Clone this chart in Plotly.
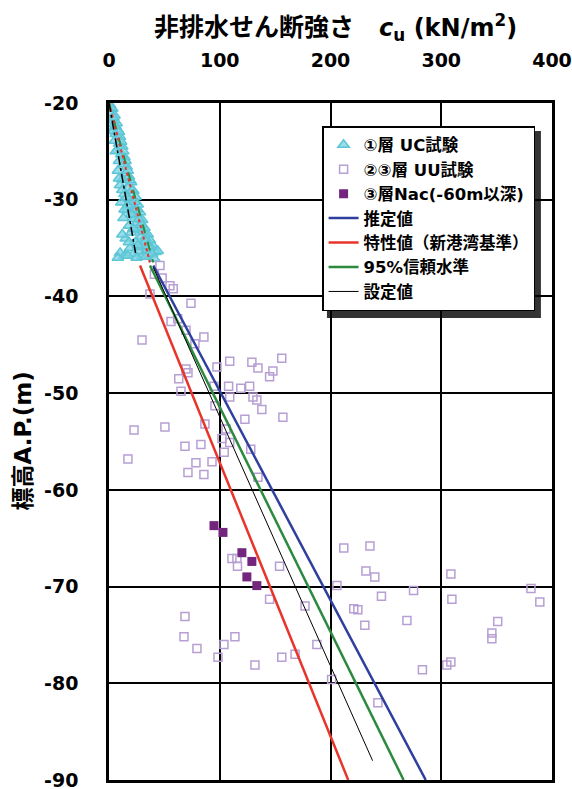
import plotly.graph_objects as go

# ---------------- data ----------------
# ① layer UC tests (cyan triangles)
uc_x = [1, 3, 2, 5, 4, 7, 3, 8, 6, 10, 5, 9, 12, 7, 11, 14, 9, 13, 16, 8, 15, 18, 12, 20, 10,
        17, 22, 14, 24, 19, 11, 26, 21, 16, 28, 23, 13, 30, 25, 18, 32, 27, 20, 35, 29, 15, 37,
        24, 31, 40, 19, 34, 27, 42, 10, 22, 36, 14, 30, 8, 4, 6, 12, 17, 23, 26, 33, 38, 44, 28,
        2, 4, 6, 9, 11, 13, 15, 17, 19, 21, 23, 25, 27, 29, 31, 33, 35, 39, 17, 25, 33, 20, 22,
        26, 12, 16, 9, 14, 18, 41]
uc_y = [-20.2, -20.6, -21.0, -21.3, -21.8, -22.1, -22.5, -22.8, -23.2, -23.5, -23.9, -24.2, -24.5,
        -24.9, -25.3, -25.6, -26.0, -26.3, -26.6, -27.0, -27.3, -27.6, -27.9, -28.2, -28.5, -28.8,
        -29.1, -29.4, -29.7, -30.0, -30.3, -30.5, -30.8, -31.1, -31.3, -31.6, -31.9, -32.1, -32.4,
        -32.7, -32.9, -33.1, -33.4, -33.6, -33.8, -34.0, -34.2, -34.4, -34.6, -34.8, -35.0, -35.2,
        -35.3, -35.4, -35.5, -35.6, -35.7, -35.8, -35.9, -36.0, -22.9, -25.0, -29.0, -30.6, -32.0,
        -33.0, -34.0, -35.0, -35.3, -34.9,
        -20.5, -21.5, -22.4, -23.0, -24.0, -25.0, -26.0, -27.0, -28.0, -29.0, -30.2, -31.0, -32.0,
        -32.6, -33.3, -34.3, -34.8, -35.6, -35.8, -36.0, -35.9, -31.5, -33.0, -34.7, -33.6, -29.8,
        -27.8, -31.0, -34.4, -36.1]

# ②③ layer UU tests (open purple squares)
uu_x = [46, 41, 48, 55, 58, 37, 74, 56, 62, 69.5, 29.8, 85.7, 77.6, 97.5, 109, 129, 134.5, 156,
        148, 145, 69.5, 71.3, 63, 65, 94.8, 108, 119, 127, 109, 130, 133.5, 138, 95.7, 157, 122.7,
        86.6, 50.5, 22.6, 105.6, 102, 109, 83, 68.6, 128, 104, 17.1, 93, 78.5, 71.3, 85.7, 134.5,
        111, 115.5, 116, 154, 145, 177, 68.6, 67.7, 79.4, 103.8, 113.7, 98.4, 131.8, 156, 168,
        212, 235.6, 232, 240, 308.7, 205.8, 246, 275, 309.6, 381, 389, 221, 224.7, 351, 269, 231,
        345.7, 345.7, 187.7, 308.7, 305, 283, 201, 242.8]
uu_y = [-36.8, -37.7, -38.1, -38.9, -39.2, -39.75, -40.7, -42.6, -42.3, -43.5, -44.5, -44.2, -44.9,
        -47.3, -46.7, -46.8, -47.4, -46.4, -47.7, -48.3, -47.5, -47.9, -48.5, -49.8, -49.3, -49.3,
        -49.5, -49.3, -50.4, -50.4, -50.7, -51.7, -51.3, -52.5, -52.7, -53.2, -53.5, -53.8, -53.7,
        -54.7, -55.1, -55.3, -55.5, -55.8, -56.1, -56.8, -57.1, -57.2, -58.2, -58.4, -58.7,
        -67.1, -67.1, -67.9, -67.9, -71.3, -72.0, -73.1, -75.2, -76.4, -76.0, -75.2, -77.3, -78.1,
        -77.3, -77.0, -66.0, -65.8, -68.4, -69.0, -68.7, -69.9, -71.0, -70.4, -71.3, -70.2, -71.6,
        -72.3, -72.4, -73.6, -73.5, -74.0, -74.8, -75.4, -76.0, -77.8, -78.1, -78.6, -79.6, -82.0]

# ③ layer Nac (below -60 m) (filled purple squares)
nac_x = [94.8, 102.9, 120, 129, 124.5, 133.5]
nac_y = [-63.7, -64.4, -66.5, -67.4, -69.0, -69.9]

# design lines (lower clay, -37 m and deeper)
est_x = [40, 286]      # 推定値
est_y = [-36.8, -90]
char_x = [28, 216]     # 特性値
char_y = [-36.8, -90]
c95_x = [37, 266]      # 95%信頼水準
c95_y = [-36.8, -90]
set_x = [40, 238]      # 設定値
set_y = [-37.0, -88]

# design lines in layer ① (upper)
up_x = [0, 40]
up_y = [-20, -36.5]
up_red_x = [0, 37]
up_set_x = [0, 24]
up_set_y = [-20, -35.5]

x_ticks = [0, 100, 200, 300, 400]
x_ticktext = ["0", "100", "200", "300", "400"]
y_ticks = [-20, -30, -40, -50, -60, -70, -80, -90]
y_ticktext = ["-20", "-30", "-40", "-50", "-60", "-70", "-80", "-90"]

legend_names = ["①層 UC試験", "②③層 UU試験", "③層Nac(-60m以深)",
                "推定値", "特性値（新港湾基準）", "95%信頼水準", "設定値"]

# ---------------- styles ----------------
FONT = "DejaVu Sans, Noto Sans CJK JP, sans-serif"
BLUE = "#2f3f9e"
RED = "#e8352b"
GREEN = "#2b8a3e"
CYAN = "#5cc6d6"
LPURP = "#b79fd4"
DPURP = "#74267f"

fig = go.Figure()

fig.add_trace(go.Scatter(x=uc_x, y=uc_y, mode="markers", name=legend_names[0], legendgroup="g0",
                         marker=dict(symbol="triangle-up", size=10, color="rgba(120,210,225,0.75)",
                                     line=dict(color=CYAN, width=1.5))))
# upper dashed lines (layer ①)
fig.add_trace(go.Scatter(x=up_x, y=up_y, mode="lines", showlegend=False,
                         line=dict(color=GREEN, width=2, dash="dash")))
fig.add_trace(go.Scatter(x=up_red_x, y=up_y, mode="lines", showlegend=False,
                         line=dict(color=RED, width=2, dash="dot")))
fig.add_trace(go.Scatter(x=up_set_x, y=up_set_y, mode="lines", showlegend=False,
                         line=dict(color="black", width=1.5, dash="dashdot")))

fig.add_trace(go.Scatter(x=uu_x, y=uu_y, mode="markers", name=legend_names[1], legendgroup="g1",
                         marker=dict(symbol="square-open", size=8, color=LPURP,
                                     line=dict(color=LPURP, width=1.5))))
fig.add_trace(go.Scatter(x=nac_x, y=nac_y, mode="markers", name=legend_names[2], legendgroup="g2",
                         marker=dict(symbol="square", size=9, color=DPURP)))
fig.add_trace(go.Scatter(x=est_x, y=est_y, mode="lines", name=legend_names[3], legendgroup="g3",
                         line=dict(color=BLUE, width=2.5)))
fig.add_trace(go.Scatter(x=char_x, y=char_y, mode="lines", name=legend_names[4], legendgroup="g4",
                         line=dict(color=RED, width=2.5)))
fig.add_trace(go.Scatter(x=c95_x, y=c95_y, mode="lines", name=legend_names[5], legendgroup="g5",
                         line=dict(color=GREEN, width=2.5)))
fig.add_trace(go.Scatter(x=set_x, y=set_y, mode="lines", name=legend_names[6], legendgroup="g6",
                         line=dict(color="black", width=1)))

# legend shadow
fig.add_shape(type="rect", xref="paper", yref="paper",
              x0=0.492, x1=0.975, y0=0.6824, y1=0.9586,
              fillcolor="#333333", line=dict(width=0), layer="below")

fig.update_layout(
    width=572, height=789,
    margin=dict(l=109, r=20, t=103, b=9, autoexpand=False),
    paper_bgcolor="white", plot_bgcolor="white",
    font=dict(family=FONT, size=16, color="black", weight="bold"),
    showlegend=True,
    legend=dict(x=0.481, y=0.966, xanchor="left", yanchor="top",
                bgcolor="white", bordercolor="black", borderwidth=1.5,
                font=dict(family=FONT, size=16.5, color="black", weight="bold"),
                tracegroupgap=0, itemwidth=30),
    xaxis=dict(side="top", range=[0, 400], tickvals=x_ticks, ticktext=x_ticktext,
               showgrid=True, gridcolor="black", gridwidth=1.5, zeroline=False,
               showline=True, linecolor="black", linewidth=2.5, mirror=True,
               ticks="", ticklabelstandoff=26, automargin=False, ticklabeloverflow="allow",
               tickfont=dict(family=FONT, size=19, weight="bold")),
    yaxis=dict(range=[-90, -20], tickvals=y_ticks, ticktext=y_ticktext,
               showgrid=True, gridcolor="black", gridwidth=1.5, zeroline=False,
               showline=True, linecolor="black", linewidth=2.5, mirror=True,
               ticks="", ticklabelstandoff=24, automargin=False, ticklabeloverflow="allow",
               tickfont=dict(family=FONT, size=19, weight="bold")),
)

fig.add_annotation(text="非排水せん断強さ<span style='font-size:24px'>&nbsp;&nbsp;&nbsp;<i>c</i><sub>u</sub> (kN/m<sup>2</sup>)</span>",
                   xref="paper", yref="paper", x=0.5, y=1, yshift=76, xshift=5,
                   xanchor="center", yanchor="middle",
                   showarrow=False, font=dict(family=FONT, size=25, weight="bold"))
fig.add_annotation(text="標高A.P.(m)", textangle=-90,
                   xref="paper", yref="paper", x=0, y=0.5, xshift=-87, yshift=0,
                   xanchor="center", yanchor="middle",
                   showarrow=False, font=dict(family=FONT, size=23, weight="bold"))

fig.write_html("out.html")
